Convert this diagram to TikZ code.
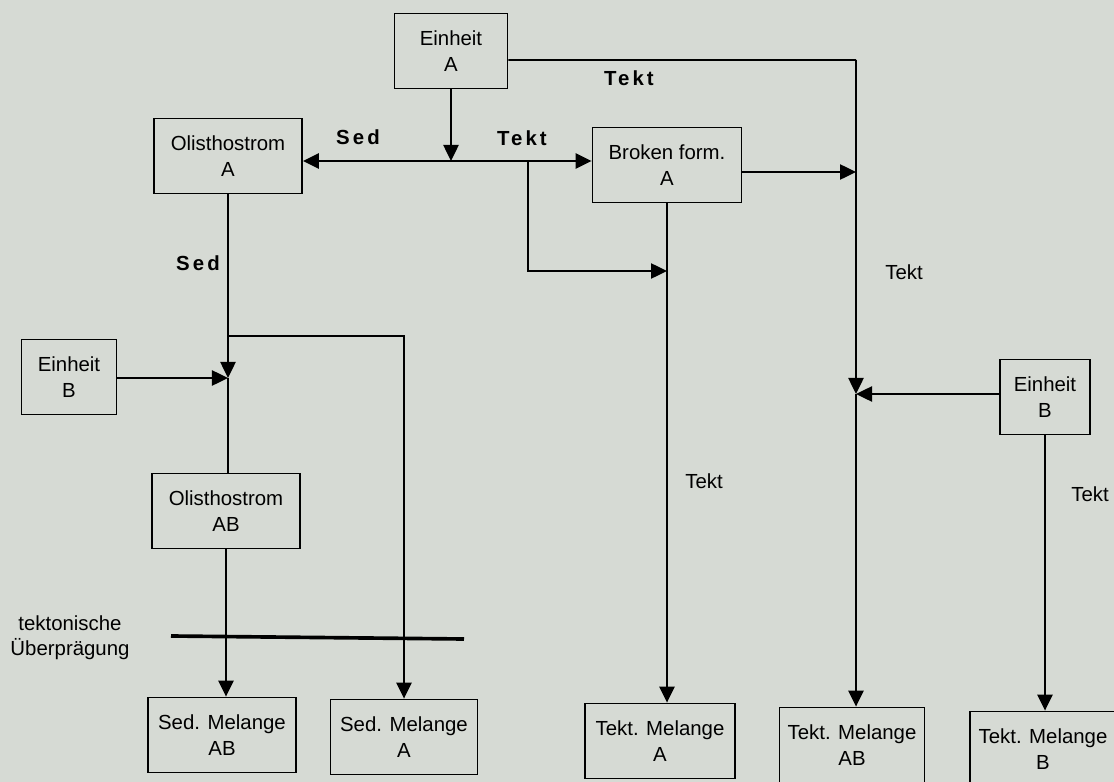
\documentclass[tikz,border=0pt]{standalone}
\usepackage{fontspec}
\setmainfont{Liberation Sans}
\usetikzlibrary{arrows.meta}
\definecolor{paper}{RGB}{214,218,212}

\begin{document}
\begin{tikzpicture}[x=0.025cm, y=-0.025cm,
    every node/.append style={font=\fontsize{14.5}{18}\selectfont},
    unit/.style={draw, line width=1.3pt, align=center, inner sep=0pt,
        minimum height=1.875cm, minimum width=#1},
    flow/.style={line width=1.3pt},
    tip/.style={-{Triangle[length=0.4cm, width=0.38cm]}},
    both/.style={{Triangle[length=0.4cm, width=0.38cm]}-{Triangle[length=0.4cm, width=0.38cm]}},
    proc/.style={font=\fontsize{14.5}{18}\selectfont\bfseries\addfontfeature{LetterSpace=15}}]

    \fill[paper] (0,0) rectangle (1114,782);
    \useasboundingbox (0,0) rectangle (1114,782);

    % Ausgangseinheiten
    \node[unit=2.825cm] (einA)   at (451,51)  {Einheit\\A};
    \node[unit=3.7cm]   (olisA)  at (228,156) {Olisthostrom\\A};
    \node[unit=3.725cm] (broken) at (667,165) {Broken form.\\A};
    \node[unit=2.375cm] (einBl)  at (69,377)  {Einheit\\B};
    \node[unit=2.25cm]  (einBr)  at (1045,397) {Einheit\\B};
    \node[unit=3.7cm]   (olisAB) at (226,511) {Olisthostrom\\AB};

    % Endprodukte
    \node[unit=3.7cm]   (sedAB) at (222,735) {Sed. Melange\\AB};
    \node[unit=3.675cm] (sedA)  at (404,737) {Sed. Melange\\A};
    \node[unit=3.75cm]  (tekA)  at (660,741) {Tekt. Melange\\A};
    \node[unit=3.625cm] (tekAB) at (852,745) {Tekt. Melange\\AB};
    \node[unit=3.65cm]  (tekB)  at (1043,749) {Tekt. Melange\\B};

    % Knickpunkte der Leitungen
    \coordinate (jA) at (451,161);      % Einheit A trifft die Querlinie
    \coordinate (jT) at (528,161);      % Abzweig nach unten
    \coordinate (kT) at (528,271);
    \coordinate (rA) at (856,60);       % Ecke rechts oben
    \coordinate (rM) at (856,394);      % Einheit B (rechts) kommt dazu
    \coordinate (lB) at (228,336);      % Abzweig zu Sed. Melange A
    \coordinate (lM) at (228,378);      % Einheit B (links) kommt dazu

    % Einheit A
    \draw[flow, tip] (einA.south) -- (jA);
    \draw[flow, both] (olisA.east |- jA) -- (broken.west |- jA);
    \draw[flow, tip] (jT) -- (kT) -- (kT -| broken.south);
    \draw[flow] ([yshift=-0.225cm]einA.east) -- (rA);
    \draw[flow, tip] (rA) -- (rM);
    \draw[flow, tip] (rM) -- (rM |- tekAB.north);

    % Broken formation
    \draw[flow, tip] ([yshift=-0.175cm]broken.east) -- ([yshift=-0.175cm]broken.east -| rA);
    \draw[flow, tip] (broken.south) -- (broken.south |- tekA.north);

    % Einheit B rechts
    \draw[flow, tip] (einBr.west |- rM) -- (rM);
    \draw[flow, tip] (einBr.south) -- (einBr.south |- tekB.north);

    % Olisthostrom
    \draw[flow, tip] (olisA.south) -- (lM);
    \draw[flow] (lM) -- (lM |- olisAB.north);
    \draw[flow, tip] (einBl.east |- lM) -- (lM);
    \draw[flow, tip] (lB) -- (lB -| sedA.north) -- (sedA.north);
    \draw[flow, tip] (olisAB.south) -- (olisAB.south |- sedAB.north);

    % tektonische Ueberpraegung
    \draw[line width=2.6pt] (171,636) -- (464,639);
    \node[align=center] (ueb) at (70,638) {tektonische\\Überprägung};

    % Prozesse
    \node[proc] (t1) at (629,78)  {Tekt};
    \node[proc] (s1) at (358,137) {Sed};
    \node[proc] (t2) at (522,138) {Tekt};
    \node[proc] (s2) at (198,263) {Sed};
    \node (t3) at (904,272)  {Tekt};
    \node (t4) at (704,481)  {Tekt};
    \node (t5) at (1090,494) {Tekt};

\end{tikzpicture}
\end{document}
